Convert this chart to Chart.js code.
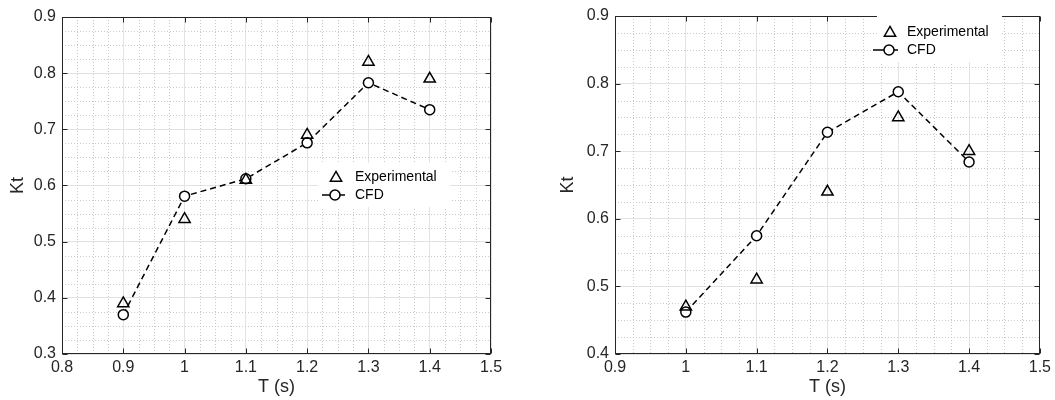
<!DOCTYPE html>
<html>
<head>
<meta charset="utf-8">
<script src="https://cdn.jsdelivr.net/npm/chart.js@4/dist/chart.umd.min.js"></script>
<style>
  html, body { margin: 0; padding: 0; background: #fff; }
  #wrap { position: relative; width: 1055px; height: 400px; }
  .panel { position: absolute; top: 0; height: 400px; }
</style>
</head>
<body>
<div id="wrap">
  <div class="panel" style="left:0;width:527px"><canvas id="left"></canvas></div>
  <div class="panel" style="left:527px;width:528px"><canvas id="right"></canvas></div>
</div>
<script>
// Wave period T (s) and thrust coefficient Kt, left panel
const periodsLeft = [0.9, 1.0, 1.1, 1.2, 1.3, 1.4];
const expLeft     = [0.39, 0.54, 0.61, 0.69, 0.82, 0.79];
const cfdLeft     = [0.37, 0.581, 0.612, 0.676, 0.783, 0.735];

// Right panel
const periodsRight = [1.0, 1.1, 1.2, 1.3, 1.4];
const expRight     = [0.47, 0.51, 0.64, 0.75, 0.70];
const cfdRight     = [0.462, 0.575, 0.728, 0.788, 0.684];

// Axis ranges
const xRangeLeft  = [0.8, 1.5];
const yRangeLeft  = [0.3, 0.9];
const xRangeRight = [0.9, 1.5];
const yRangeRight = [0.4, 0.9];

const seriesNames = ['Experimental', 'CFD'];
const xTitle = 'T (s)';
const yTitle = 'Kt';

const FONT = '"Liberation Sans", Arial, Helvetica, sans-serif';
const INK = '#262626';

function fmt(v) { return String(Number(v.toFixed(2))); }

function pairs(xs, ys) { return xs.map((x, i) => ({ x: x, y: ys[i] })); }

// Dotted minor grid, inward ticks on all four sides, and a closed box
const matlabFrame = {
  id: 'matlabFrame',
  beforeDatasetsDraw(chart) {
    const { ctx, chartArea: a, scales } = chart;
    ctx.save();
    ctx.strokeStyle = '#cacaca';
    ctx.lineWidth = 1;
    ctx.setLineDash([1, 2]);
    const minor = 0.025;
    const xs = scales.x, ys = scales.y;
    for (let k = 0; ; k++) {
      const v = xs.min + k * minor;
      if (v > xs.max + 1e-9) break;
      if (Math.abs(Math.round(v * 10) - v * 10) < 1e-6) continue;
      const px = Math.round(xs.getPixelForValue(v)) + 0.5;
      ctx.beginPath(); ctx.moveTo(px, a.top); ctx.lineTo(px, a.bottom); ctx.stroke();
    }
    for (let k = 0; ; k++) {
      const v = ys.min + k * minor;
      if (v > ys.max + 1e-9) break;
      if (Math.abs(Math.round(v * 10) - v * 10) < 1e-6) continue;
      const py = Math.round(ys.getPixelForValue(v)) + 0.5;
      ctx.beginPath(); ctx.moveTo(a.left, py); ctx.lineTo(a.right, py); ctx.stroke();
    }
    ctx.restore();
  },
  afterDatasetsDraw(chart) {
    const { ctx, chartArea: a, scales } = chart;
    ctx.save();
    ctx.strokeStyle = INK;
    ctx.lineWidth = 1;
    ctx.setLineDash([]);
    const L = Math.round(a.left) + 0.5, R = Math.round(a.right) - 0.5;
    const T = Math.round(a.top) + 0.5, B = Math.round(a.bottom) - 0.5;
    ctx.strokeRect(L, T, R - L, B - T);
    const len = 5;
    scales.x.ticks.forEach(t => {
      const px = Math.round(scales.x.getPixelForValue(t.value)) + 0.5;
      ctx.beginPath();
      ctx.moveTo(px, B); ctx.lineTo(px, B - len);
      ctx.moveTo(px, T); ctx.lineTo(px, T + len);
      ctx.stroke();
    });
    scales.y.ticks.forEach(t => {
      const py = Math.round(scales.y.getPixelForValue(t.value)) + 0.5;
      ctx.beginPath();
      ctx.moveTo(L, py); ctx.lineTo(L + len, py);
      ctx.moveTo(R, py); ctx.lineTo(R - len, py);
      ctx.stroke();
    });
    ctx.restore();
  }
};

// Legend box placed inside the axes
const boxLegend = {
  id: 'boxLegend',
  afterDraw(chart, args, o) {
    const { ctx, chartArea: a } = chart;
    ctx.save();
    ctx.fillStyle = '#fff';
    ctx.fillRect(a.left + o.boxX, a.top + o.boxY, o.boxW, o.boxH);
    ctx.strokeStyle = '#000';
    ctx.lineWidth = 1.5;
    ctx.setLineDash([]);
    const mx = a.left + o.markX;
    const y1 = a.top + o.row1, y2 = a.top + o.row2;
    // triangle marker
    const r = 6.5;
    ctx.beginPath();
    ctx.moveTo(mx, y1 - r * 0.85);
    ctx.lineTo(mx + r * 0.866, y1 + r * 0.65);
    ctx.lineTo(mx - r * 0.866, y1 + r * 0.65);
    ctx.closePath();
    ctx.stroke();
    // line + circle marker
    ctx.beginPath();
    ctx.moveTo(a.left + o.lineFrom, y2); ctx.lineTo(a.left + o.lineTo, y2);
    ctx.stroke();
    ctx.beginPath();
    ctx.arc(mx - 1, y2, 5, 0, Math.PI * 2);
    ctx.fillStyle = '#fff';
    ctx.fill();
    ctx.stroke();
    ctx.fillStyle = '#000';
    ctx.font = '14px ' + FONT;
    ctx.textBaseline = 'middle';
    ctx.fillText(seriesNames[0], a.left + o.textX, y1);
    ctx.fillText(seriesNames[1], a.left + o.textX, y2);
    ctx.restore();
  }
};

function makeChart(id, xs, exp, cfd, xr, yr, pad, yWidth, yTitlePad, legendOpts) {
  return new Chart(document.getElementById(id), {
    type: 'scatter',
    data: {
      datasets: [
        {
          label: seriesNames[0],
          data: pairs(xs, exp),
          showLine: false,
          pointStyle: 'triangle',
          pointRadius: 6.5,
          pointHoverRadius: 6.5,
          pointBorderWidth: 1.5,
          pointBorderColor: '#000',
          pointBackgroundColor: 'rgba(0,0,0,0)'
        },
        {
          label: seriesNames[1],
          data: pairs(xs, cfd),
          showLine: true,
          borderColor: '#000',
          borderWidth: 1.5,
          borderDash: [6, 4],
          pointStyle: 'circle',
          pointRadius: 5,
          pointHoverRadius: 5,
          pointBorderWidth: 1.5,
          pointBorderColor: '#000',
          pointBackgroundColor: '#fff'
        }
      ]
    },
    options: {
      responsive: true,
      maintainAspectRatio: false,
      animation: false,
      devicePixelRatio: 1,
      layout: { padding: pad },
      plugins: {
        legend: { display: false },
        tooltip: { enabled: false },
        boxLegend: legendOpts
      },
      scales: {
        x: {
          type: 'linear',
          min: xr[0], max: xr[1],
          afterFit(s) { s.height = 46; },
          ticks: {
            stepSize: 0.1,
            callback: v => fmt(v),
            font: { family: FONT, size: 16 },
            color: INK,
            padding: 4,
            maxRotation: 0,
            autoSkip: false
          },
          grid: { color: '#e3e3e3', lineWidth: 1, drawTicks: false },
          border: { display: false },
          title: {
            display: true,
            text: xTitle,
            font: { family: FONT, size: 18 },
            color: INK,
            padding: { top: 0, bottom: 2 }
          }
        },
        y: {
          type: 'linear',
          min: yr[0], max: yr[1],
          afterFit(s) { s.width = yWidth; },
          ticks: {
            stepSize: 0.1,
            callback: v => fmt(v),
            font: { family: FONT, size: 16 },
            color: INK,
            padding: 6
          },
          grid: { color: '#e3e3e3', lineWidth: 1, drawTicks: false },
          border: { display: false },
          title: {
            display: true,
            text: yTitle,
            font: { family: FONT, size: 18 },
            color: INK,
            padding: { top: yTitlePad, bottom: 0 }
          }
        }
      }
    },
    plugins: [matlabFrame, boxLegend]
  });
}

makeChart('left', periodsLeft, expLeft, cfdLeft, xRangeLeft, yRangeLeft,
  { left: 0, right: 36, top: 17, bottom: 0 }, 62, 7,
  { boxX: 256, boxY: 146, boxW: 132, boxH: 44, markX: 274, row1: 160, row2: 178,
    lineFrom: 260, lineTo: 283, textX: 293 });

makeChart('right', periodsRight, expRight, cfdRight, xRangeRight, yRangeRight,
  { left: 0, right: 12, top: 16, bottom: 0 }, 88, 30,
  { boxX: 262, boxY: 0, boxW: 125, boxH: 46, markX: 275, row1: 16, row2: 34,
    lineFrom: 258, lineTo: 283, textX: 292 });
</script>
</body>
</html>
